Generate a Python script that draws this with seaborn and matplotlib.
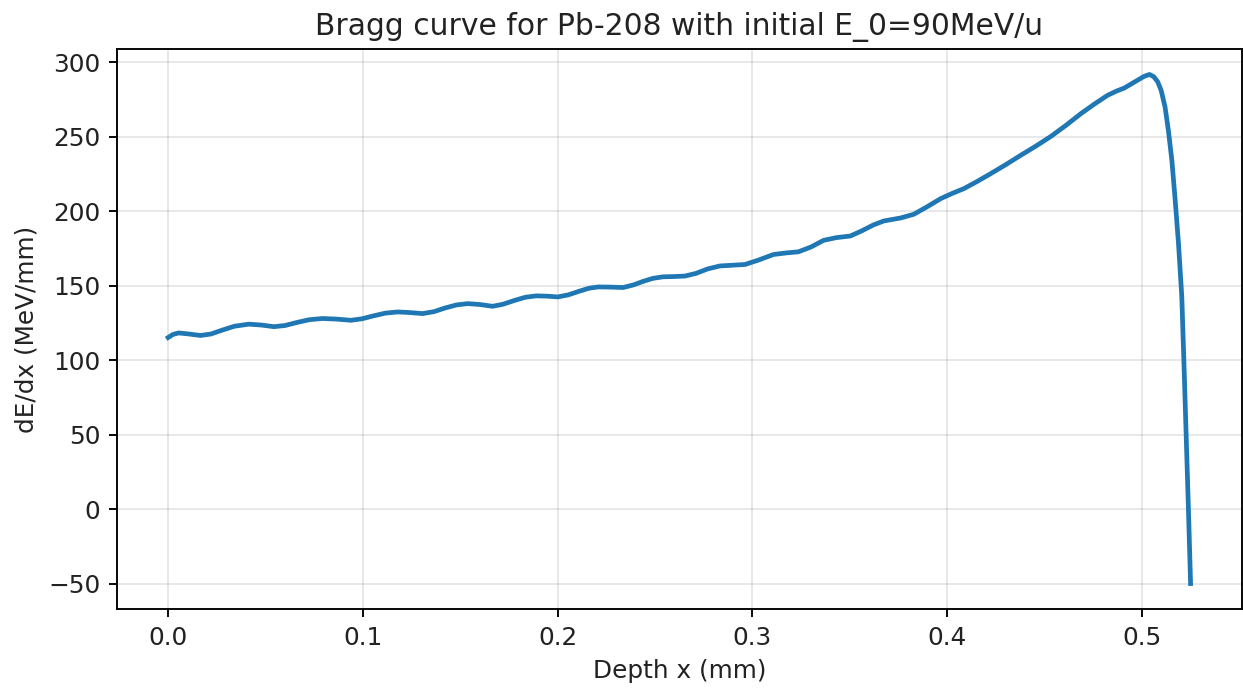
import matplotlib
matplotlib.use("Agg")
import matplotlib.pyplot as plt
import seaborn as sns
import pandas as pd

depth_mm = [
    0.0000, 0.0025, 0.0054, 0.0100, 0.0166, 0.0220, 0.0280, 0.0340, 0.0414, 0.0480,
    0.0543, 0.0600, 0.0660, 0.0725, 0.0792, 0.0865, 0.0938, 0.0995, 0.1055, 0.1115,
    0.1178, 0.1240, 0.1306, 0.1365, 0.1420, 0.1480, 0.1538, 0.1600, 0.1666, 0.1720,
    0.1780, 0.1835, 0.1890, 0.1945, 0.2001, 0.2055, 0.2110, 0.2160, 0.2207, 0.2270,
    0.2336, 0.2390, 0.2440, 0.2490, 0.2541, 0.2600, 0.2653, 0.2710, 0.2770, 0.2833,
    0.2900, 0.2962, 0.3030, 0.3108, 0.3170, 0.3236, 0.3300, 0.3365, 0.3430, 0.3502,
    0.3560, 0.3620, 0.3674, 0.3760, 0.3828, 0.3900, 0.3966, 0.4025, 0.4085, 0.4150,
    0.4223, 0.4300, 0.4377, 0.4455, 0.4532, 0.4610, 0.4686, 0.4755, 0.4823, 0.4870,
    0.4909, 0.4970, 0.5010, 0.5038, 0.5060, 0.5080, 0.5098, 0.5118, 0.5135, 0.5153,
    0.5170, 0.5187, 0.5204, 0.5214, 0.5226, 0.5238, 0.5249,
]
dedx_mev_per_mm = [
    115.2, 117.3, 118.3, 117.7, 116.6, 117.6, 120.3, 122.8, 124.2, 123.6,
    122.5, 123.3, 125.3, 127.2, 128.0, 127.6, 126.8, 127.8, 129.8, 131.6,
    132.4, 132.0, 131.3, 132.6, 135.0, 137.1, 138.0, 137.4, 136.2, 137.6,
    140.2, 142.3, 143.2, 143.0, 142.5, 143.9, 146.3, 148.3, 149.2, 149.1,
    148.8, 150.6, 153.0, 155.0, 156.0, 156.2, 156.5, 158.3, 161.3, 163.3,
    163.8, 164.3, 167.2, 171.0, 172.0, 172.8, 176.0, 180.5, 182.3, 183.4,
    186.8, 190.8, 193.5, 195.5, 198.0, 203.3, 208.5, 212.0, 215.2, 219.8,
    225.3, 231.3, 237.6, 243.8, 250.3, 257.8, 265.6, 272.0, 277.9, 280.8,
    282.8, 287.5, 290.6, 291.9, 290.4, 287.0, 281.2, 270.0, 254.4, 234.2,
    207.4, 178.3, 142.5, 102.0, 51.0, 0.0, -50.0,
]

title = "Bragg curve for Pb-208 with initial E_0=90MeV/u"
xlabel = "Depth x (mm)"
ylabel = "dE/dx (MeV/mm)"

df = pd.DataFrame({"x": depth_mm, "y": dedx_mev_per_mm})

dpi = 170
fig = plt.figure(figsize=(1243 / dpi, 690 / dpi), dpi=dpi)
ax = fig.add_axes([117 / 1243, 1 - 609 / 690, (1241.7 - 117) / 1243, (609 - 49) / 690])

sns.lineplot(data=df, x="x", y="y", ax=ax, color="#1f77b4", linewidth=2.0,
             errorbar=None, sort=False)

ax.set_title(title, fontsize=12.6, color="#222222")
ax.set_xlabel(xlabel, fontsize=10.5, color="#222222")
ax.set_ylabel(ylabel, fontsize=10.5, color="#222222")
ax.tick_params(labelsize=10.5, labelcolor="#222222")
ax.grid(True, alpha=0.3)
ax.set_yticks([-50, 0, 50, 100, 150, 200, 250, 300])

fig.savefig("out.png", dpi=dpi)
